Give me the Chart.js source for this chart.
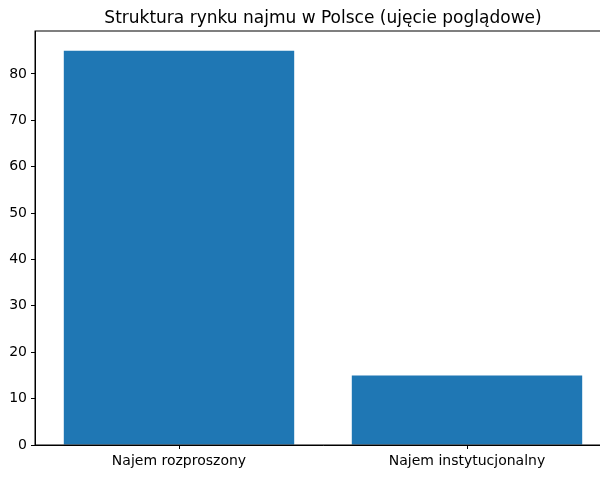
<!DOCTYPE html>
<html>
<head>
<meta charset="utf-8">
<script src="https://cdn.jsdelivr.net/npm/chart.js@4/dist/chart.umd.min.js"></script>
<style>
  html, body { margin: 0; padding: 0; background: #fff; overflow: hidden; }
  #wrap { width: 620px; height: 480px; }
</style>
</head>
<body>
<div id="wrap"><canvas id="my-chart" width="620" height="480"></canvas></div>
<script>
const categories = ['Najem rozproszony', 'Najem instytucjonalny'];
const shares = [85, 15];
const yTicks = [0, 10, 20, 30, 40, 50, 60, 70, 80];

// frame round the plot, like matplotlib spines
const frame = {
  id: 'frame',
  afterDraw(chart) {
    const a = chart.chartArea;
    const ctx = chart.ctx;
    ctx.save();
    ctx.strokeStyle = '#000';
    ctx.lineWidth = 1;
    ctx.strokeRect(a.left, a.top, a.right - a.left, a.bottom - a.top);
    ctx.restore();
  }
};

Chart.defaults.font.family = 'DejaVu Sans';
Chart.defaults.color = '#000';

const ctx = document.getElementById('my-chart').getContext('2d');
const chart = new Chart(ctx, {
  type: 'bar',
  data: {
    labels: categories,
    datasets: [{
      data: shares,
      backgroundColor: '#1f77b4',
      barPercentage: 0.8,
      categoryPercentage: 1.0
    }]
  },
  options: {
    responsive: false,
    animation: false,
    layout: { padding: { left: 0, right: 9, top: 0, bottom: 0 } },
    plugins: {
      legend: { display: false },
      tooltip: { enabled: false },
      title: {
        display: true,
        fullSize: false,
        text: 'Struktura rynku najmu w Polsce (ujęcie poglądowe)',
        font: { size: 17, weight: 'normal' },
        color: '#000',
        padding: { top: 8.5, bottom: 2.1 }
      }
    },
    scales: {
      x: {
        offset: true,
        grid: { display: true, drawOnChartArea: false, offset: false, tickLength: 4, tickColor: '#000' },
        border: { display: true, color: '#000' },
        ticks: { font: { size: 14 }, padding: 4, maxRotation: 0 },
        afterFit(scale) { scale.height = 35; }
      },
      y: {
        min: 0,
        max: 89.25,
        grid: { display: true, drawOnChartArea: false, tickLength: 4, tickColor: '#000' },
        border: { display: true, color: '#000' },
        ticks: { font: { size: 14 }, padding: 4, stepSize: 10 },
        afterBuildTicks(axis) {
          axis.ticks = yTicks.map(v => ({ value: v }));
        },
        afterFit(scale) { scale.width = 35; }
      }
    }
  },
  plugins: [frame]
});
</script>
</body>
</html>
